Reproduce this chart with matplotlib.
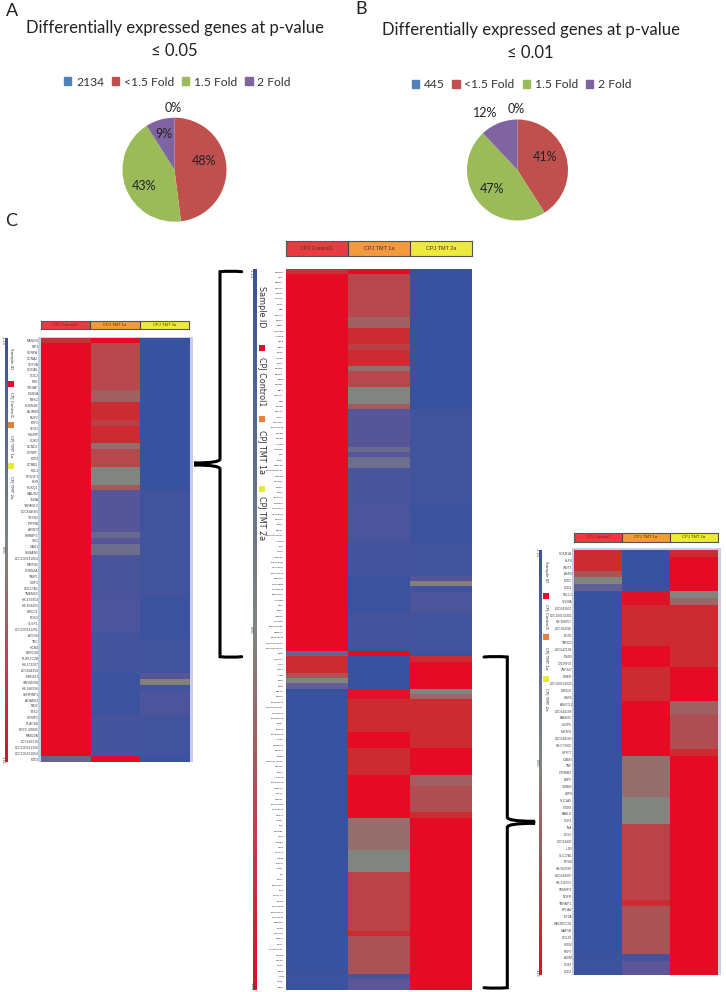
import matplotlib
matplotlib.use('Agg')
import matplotlib.pyplot as plt
import numpy as np
from matplotlib.colors import LinearSegmentedColormap, ListedColormap
from matplotlib.patches import PathPatch, Patch
from matplotlib.path import Path
from matplotlib.cm import ScalarMappable

W, H = 726, 992

pie_labels = ['<1.5 Fold', '1.5 Fold', '2 Fold']
pie_a_total = '2134'
pie_b_total = '445'
pie_a_values = [0, 48, 43, 9]
pie_b_values = [0, 41, 47, 12]
pie_colors = ['#4f81bd', '#c0504d', '#9bbb59', '#8064a2']

samples = ['CPJ Control1', 'CPJ TMT 1a', 'CPJ TMT 2a']
sample_colors = ['#e93b40', '#f29a3c', '#ecea3a']
legend_colors = ['#e0102c', '#e8803a', '#e8e83a']
scale_labels = ['-1.15', '0.00', '1.15']

up_genes = [
    'NANOG', 'HIF1', 'CENPA', 'CCNA2', 'TOP2A', 'CDCA8', 'CDC2', 'PBK', 'TROAP', 'DSN1A', 'NEK2', 'CDKN1B',
    'AURKB', 'NUF2', 'E2F2', 'SOX2', 'HJURP', 'CDK2', 'CCND2', 'CENPF', 'FZD2', 'CCNB2', 'PBL2', 'POU5F1',
    'KDR', 'FOXQ1', 'WAUS2', 'TUBA', 'TSPAN13', 'LOC644065', 'TGFB3', 'PTPRB', 'ARNT2', 'HNRBP2', 'SRC', 'GAS1',
    'SEMA3B', 'LOC100131064', 'WNT5B', 'CDKN2A', 'TIMP1', 'GDF3', 'COL17A1', 'TMEM29', 'HS.470954', 'HS.408455',
    'HRCC4', 'PDK3', 'SULF1', 'LOC100131291', 'ATOH1', 'TNC', 'HCN4', 'LRRC48', 'PLEKTC2B', 'HS.172207',
    'LOC644150', 'MIR1181', 'SADSNRD', 'HS.286556', 'SERPINF1', 'ADAM21', 'NID2', 'YBX2', 'IGFBP2', 'PLAC8B',
    'ERCC-00085', 'RAB20A', 'LOC646276', 'LOC100131358', 'LOC100131054', 'FZD5']
up_control = [0.75] + [1.0] * 70 + [-0.35]
up_tmt1a = [
    1.0, 0.5, 0.5, 0.5, 0.5, 0.5, 0.5, 0.5, 0.5, 0.3, 0.3, 0.8,
    0.8, 0.8, 0.6, 0.8, 0.8, 0.8, 0.2, 0.5, 0.5, 0.5, 0.0, 0.0,
    0.0, 0.35, -0.55, -0.55, -0.55, -0.55, -0.55, -0.55, -0.55, -0.3, -0.55, -0.25,
    -0.25, -0.75, -0.75, -0.75, -0.75, -0.75, -0.75, -0.75, -0.7, -0.7,
    -0.7, -0.7, -0.7, -0.7, -0.8, -0.8, -0.8, -0.8, -0.8, -0.8,
    -0.8, -0.95, -0.95, -0.95, -0.95, -0.95, -0.95, -0.95, -0.8, -0.8,
    -0.8, -0.8, -0.8, -0.8, -0.8, 1.0]
up_tmt2a = [
    -1.0, -1.0, -1.0, -1.0, -1.0, -1.0, -1.0, -1.0, -1.0, -1.0, -1.0, -1.0,
    -1.0, -1.0, -1.0, -1.0, -1.0, -1.0, -1.0, -1.0, -1.0, -1.0, -1.0, -1.0,
    -1.0, -1.0, -0.85, -0.85, -0.85, -0.85, -0.85, -0.85, -0.85, -0.85, -0.85, -0.85,
    -0.85, -0.85, -0.85, -0.85, -0.85, -0.85, -0.85, -0.85, -0.95, -0.95,
    -0.95, -0.95, -0.95, -0.95, -0.95, -0.85, -0.85, -0.85, -0.85, -0.85,
    -0.85, -0.55, 0.05, -0.85, -0.7, -0.7, -0.7, -0.7, -0.85, -0.85,
    -0.85, -0.85, -0.85, -0.85, -0.85, -0.95]

down_genes = [
    'CDKN1A', 'KLF4', 'WNT3', 'AHR2', 'FZD5', 'FZD3', 'NELL2', 'SCN9A', 'LOC643052', 'LOC100131301', 'HS.308357',
    'LOC284296', 'EGR1', 'TNNC2', 'LOC642194', 'GSR5', 'C7ORF33', 'ZNF347', 'DNER', 'LOC100131025', 'MIR202',
    'GBP4', 'ANGTL2', 'LOC644199', 'FAM43C', 'LUZP6', 'MOXR1', 'LOC644590', 'HS.573302', 'GPR77', 'ICAM1', 'TNF',
    'CTNNB1', 'LRP5', 'TUBB3', 'LRP8', 'SLC1A2', 'ITGB8', 'FABLD', 'OLR1', 'INA', 'COL5', 'LOC93432', 'IL1R',
    'SLC17A1', 'FOSB', 'HS.562939', 'LOC644997', 'HS.216701', 'SMURF2', 'NGFR', 'TNFAIP1', 'EPHA2', 'MT2A',
    'CAV2DCC01', 'MAP1B', 'COL20', 'SYNV', 'FGF9', 'AXIM', 'CD83', 'FZD4']
down_control = [0.8, 0.8, 0.8, 0.4, 0.0, -0.4] + [-1.0] * 53 + [-0.95, -0.95, -0.95]
down_tmt1a = [
    -1.0, -1.0, -1.0, -1.0, -1.0, -1.0, 0.95, 0.95, 0.8, 0.8, 0.8, 0.8, 0.8, 0.8, 1.0, 1.0, 1.0,
    0.8, 0.8, 0.8, 0.8, 0.8, 1.0, 1.0, 1.0, 1.0, 1.0, 1.0, 1.0, 1.0, 0.2, 0.2, 0.2, 0.2, 0.2, 0.2,
    0.0, 0.0, 0.0, 0.0, 0.55, 0.55, 0.55, 0.55, 0.55, 0.55, 0.55, 0.55, 0.55, 0.55, 0.55, 0.8,
    0.4, 0.4, 0.4, 0.4, 0.4, 0.4, 0.4, -0.8, -0.5, -0.5]
down_tmt2a = [
    0.8, 1.0, 1.0, 1.0, 1.0, 1.0, 0.0, 0.25, 0.8, 0.8, 0.8, 0.8, 0.8, 0.8, 0.8, 0.8, 0.8,
    1.0, 1.0, 1.0, 1.0, 1.0, 0.3, 0.3, 0.45, 0.45, 0.45, 0.45, 0.45, 0.8, 1.0, 1.0, 1.0, 1.0, 1.0, 1.0,
    1.0, 1.0, 1.0, 1.0, 1.0, 1.0, 1.0, 1.0, 1.0, 1.0, 1.0, 1.0, 1.0, 1.0, 1.0, 1.0,
    1.0, 1.0, 1.0, 1.0, 1.0, 1.0, 1.0, 1.0, 1.0, 1.0]

plt.rcParams['font.family'] = ['Lato', 'DejaVu Sans']
heat_cmap = LinearSegmentedColormap.from_list('heat', [
    (0.0, '#38529f'), (0.25, '#5a5699'), (0.5, '#808680'),
    (0.75, '#b5484e'), (0.9, '#cc2c33'), (1.0, '#e60b25')])
bar_cmap = LinearSegmentedColormap.from_list('bar', ['#38529f', '#808680', '#e60b25'])


def px_axes(fig, x0, y0, x1, y1, **kwargs):
    # pixel box from the top left corner of the figure
    return fig.add_axes([x0 / W, 1 - y1 / H, (x1 - x0) / W, (y1 - y0) / H], **kwargs)


def draw_pie(fig, overlay, cx, cy, r, values, text_pos):
    ax = px_axes(fig, cx - r, cy - r, cx + r, cy + r)
    ax.pie(values, colors=pie_colors, startangle=90, counterclock=False, radius=1)
    ax.set_xlim(-1, 1)
    ax.set_ylim(-1, 1)
    ax.set_aspect('auto')
    for v, (x, y) in zip(values, text_pos):
        overlay.text(x, y, f'{v}%', fontsize=9, ha='center', va='center', color='#222222')


def draw_pie_legend(fig, x, y, total):
    handles = [Patch(color=c) for c in pie_colors]
    fig.legend(handles, [total] + pie_labels, ncol=4, frameon=False, fontsize=8.7,
               loc='center', bbox_to_anchor=(x / W, 1 - y / H),
               handlelength=0.6, handleheight=0.6, handletextpad=0.4, columnspacing=0.65,
               labelcolor='#333333')


def draw_heatmap(fig, overlay, box, head, bar, genes, data, label_size, label_color, side_text):
    x0, y0, x1, y1 = box
    ax = px_axes(fig, x0, y0, x1, y1)
    ax.imshow(np.array(data).T, cmap=heat_cmap, vmin=-1, vmax=1, aspect='auto', interpolation='nearest')
    ax.set_xticks([])
    ax.set_yticks(range(len(genes)), genes, fontsize=label_size, color=label_color, family='Liberation Sans')
    ax.tick_params(axis='y', length=0, pad=1.5)
    for s in ax.spines.values():
        s.set_visible(False)

    hax = px_axes(fig, x0, head[0], x1, head[1])
    hax.imshow([[0, 1, 2]], cmap=ListedColormap(sample_colors), aspect='auto', interpolation='nearest')
    hax.set_xticks([0.5, 1.5], labels=[])
    hax.set_yticks([])
    hax.tick_params(length=0)
    hax.grid(axis='x', color='#444444', linewidth=0.8)
    for s in hax.spines.values():
        s.set_color('#555555')
        s.set_linewidth(0.8)
    for i, name in enumerate(samples):
        hax.text(i, 0, name, fontsize=head[2], ha='center', va='center', color='#5a2a20',
                 family='Liberation Sans')

    bx0, bx1 = bar
    bax = px_axes(fig, bx0, y0, bx1, y1)
    fig.colorbar(ScalarMappable(cmap=bar_cmap), cax=bax)
    bax.invert_yaxis()
    bax.set_yticks([])
    for s in bax.spines.values():
        s.set_visible(False)
    for label, frac in zip(scale_labels, [0.006, 0.5, 0.994]):
        overlay.text(bx0 - 2, y0 + frac * (y1 - y0), label, fontsize=2.8, rotation=-90,
                     ha='center', va='center', color='#444444', family='Liberation Sans')

    tx, tsize, msize, entries = side_text
    for text, y, colour in entries:
        if colour is None:
            overlay.text(tx, y, text, fontsize=tsize, rotation=-90, ha='center', va='center',
                         color='#333333', family='DejaVu Sans')
        else:
            overlay.scatter([tx], [y], marker='s', s=msize, color=colour, linewidths=0)


def draw_brace(overlay, x_end, x_line, x_tip, y_top, y_mid, y_bot):
    c = (x_end + x_line) / 2
    d = np.sign(x_end - x_line) * 4
    verts = [(x_end, y_top), (c, y_top - 1), (x_line, y_top), (x_line, y_top + 5),
             (x_line, y_mid - 5), (x_line, y_mid - 1), (x_tip - d, y_mid - 1), (x_tip, y_mid)]
    verts2 = [(x_end, y_bot), (c, y_bot + 1), (x_line, y_bot), (x_line, y_bot - 5),
              (x_line, y_mid + 5), (x_line, y_mid + 1), (x_tip - d, y_mid + 1), (x_tip, y_mid)]
    codes = [Path.MOVETO, Path.CURVE3, Path.CURVE3, Path.LINETO, Path.LINETO, Path.CURVE3, Path.CURVE3, Path.LINETO]
    for v in (verts, verts2):
        overlay.add_patch(PathPatch(Path(v, codes), fill=False, edgecolor='black', linewidth=2.2,
                                    capstyle='round'))


fig = plt.figure(figsize=(W / 100, H / 100), dpi=100)

# lavender edge strips next to the heatmaps sit on a back layer
back = px_axes(fig, 0, 0, W, H, zorder=-1)
back.set_xlim(0, W)
back.set_ylim(H, 0)
back.axis('off')
for x0, y0, x1, y1 in [(38, 337, 192.7, 762), (571.5, 548, 720.7, 975)]:
    back.add_patch(plt.Rectangle((x0, y0), x1 - x0, y1 - y0, facecolor='#c9cdea', edgecolor='none'))

overlay = px_axes(fig, 0, 0, W, H, zorder=10)
overlay.set_xlim(0, W)
overlay.set_ylim(H, 0)
overlay.axis('off')

# panel letters and pie titles
for letter, x, y in [('A', 11.5, 10.5), ('B', 361, 9.5), ('C', 11, 221)]:
    overlay.text(x, y, letter, fontsize=13, ha='center', va='center', color='#222222')
overlay.text(174.5, 28.5, 'Differentially expressed genes at p-value', fontsize=12, ha='center', va='center', color='#222222')
overlay.text(174.5, 51.5, '≤ 0.05', fontsize=12, ha='center', va='center', color='#222222')
overlay.text(530.5, 30, 'Differentially expressed genes at p-value', fontsize=12, ha='center', va='center', color='#222222')
overlay.text(530.5, 52.5, '≤ 0.01', fontsize=12, ha='center', va='center', color='#222222')

draw_pie_legend(fig, 177.5, 82, pie_a_total)
draw_pie_legend(fig, 521.5, 84.5, pie_b_total)
draw_pie(fig, overlay, 174.5, 169.7, 52, pie_a_values,
         [(173, 108), (204, 161), (144, 185.7), (164, 134)])
draw_pie(fig, overlay, 517.5, 170, 50.5, pie_b_values,
         [(516.5, 109), (545.5, 157), (492, 188.7), (485, 112.7)])

up_rows = [up_control, up_tmt1a, up_tmt2a]
down_rows = [down_control, down_tmt1a, down_tmt2a]
all_rows = [u + d for u, d in zip(up_rows, down_rows)]

draw_heatmap(fig, overlay, (40.7, 337.5, 189.3, 762), (321, 329, 3.0), (5, 7.5), up_genes, up_rows, 2.4, '#444444',
             (11, 3.0, 14, [('Sample ID', 359, None), ('', 384, legend_colors[0]), (samples[0], 404.5, None),
                            ('', 425, legend_colors[1]), (samples[1], 446, None),
                            ('', 466, legend_colors[2]), (samples[2], 487, None)]))
draw_heatmap(fig, overlay, (285.7, 269.3, 471.7, 990), (241, 255.7, 4.0), (253.3, 257.3), up_genes + down_genes, all_rows, 1.7, '#111111',
             (261.7, 5.8, 22, [('Sample ID', 307, None), ('', 348, legend_colors[0]), (samples[0], 382, None),
                               ('', 418.5, legend_colors[1]), (samples[1], 452, None),
                               ('', 488.5, legend_colors[2]), (samples[2], 518.5, None)]))
draw_heatmap(fig, overlay, (574.3, 550, 717.7, 975), (533, 541.7, 3.0), (538.7, 542.3), down_genes, down_rows, 2.35, '#444444',
             (545.7, 3.0, 14, [('Sample ID', 571.5, None), ('', 595.6, legend_colors[0]), (samples[0], 616.5, None),
                               ('', 637, legend_colors[1]), (samples[1], 658, None),
                               ('', 679, legend_colors[2]), (samples[2], 699, None)]))

draw_brace(overlay, 241.7, 220, 198.3, 271.7, 464, 656.7)
draw_brace(overlay, 484, 507.3, 531, 657, 822.3, 987.7)

fig.savefig('out.png', dpi=100)
